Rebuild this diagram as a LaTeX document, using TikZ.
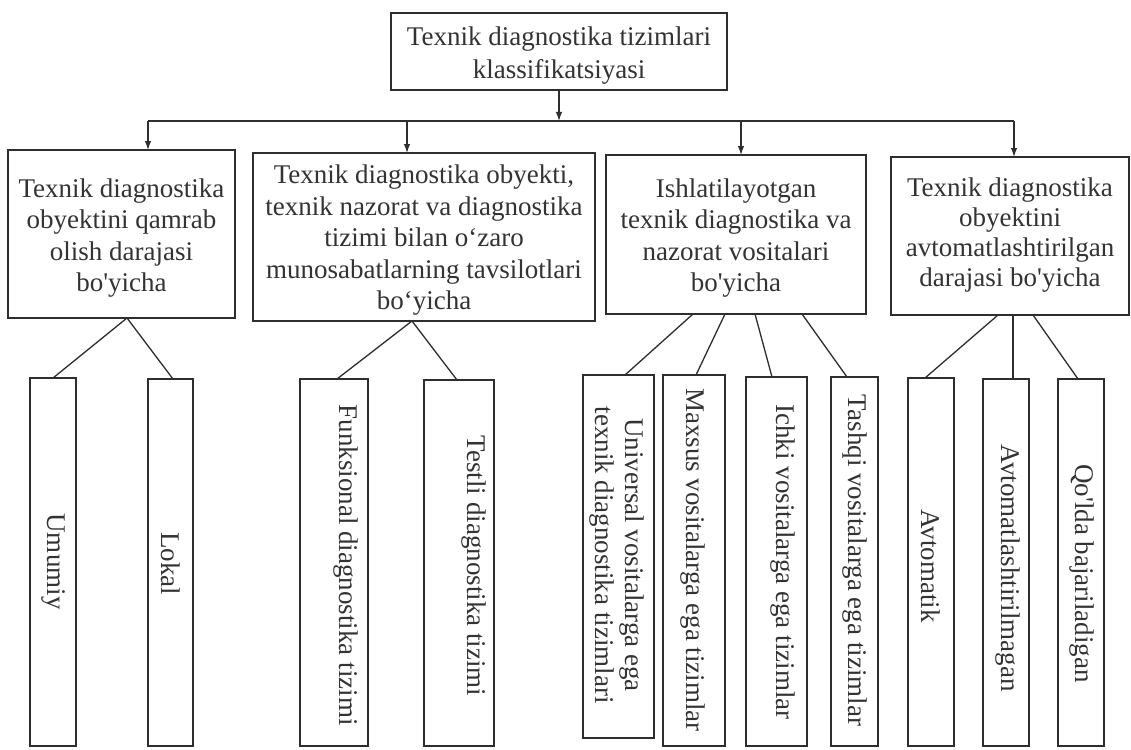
\documentclass[tikz,border=0pt]{standalone}
\usepackage{fontspec}
\setmainfont{Liberation Serif}
\usetikzlibrary{arrows.meta}
\definecolor{ink}{HTML}{2E2E2E}
\definecolor{txt}{HTML}{333333}
\begin{document}
\begin{tikzpicture}[x=1pt,y=-1pt,
  every node/.style={inner sep=0pt, outer sep=0pt},
  box/.style={draw=ink, line width=1.5pt},
  htext/.style={text=txt, align=center, font=\fontsize{27}{31.5}\selectfont},
  leaf/.style={draw=ink, line width=1.5pt},
  vtext/.style={rotate=-90, text=txt, align=center, font=\fontsize{27}{30}\selectfont},
  con/.style={draw=ink, line width=1.3pt},
  arr/.style={con, -{Latex[length=9pt,width=6.5pt]}},
]
\fill[white] (0,0) rectangle (1131,749);
\useasboundingbox (0,0) rectangle (1131,749);

% top
\node[box, minimum width=336pt, minimum height=77pt] (top) at (559,51.5) {};
\node[htext, font=\fontsize{27}{33}\selectfont] (topt) at (559,55.5)
  {Texnik diagnostika tizimlari\\klassifikatsiyasi};

% level 1
\node[box, minimum width=227pt, minimum height=168pt] (b1) at (121.5,234) {};
\node[box, minimum width=342pt, minimum height=168pt] (b2) at (424,237) {};
\node[box, minimum width=260pt, minimum height=159pt] (b3) at (736,234.5) {};
\node[box, minimum width=238pt, minimum height=158pt] (b4) at (1010,236) {};

\node[htext] (b1t) at (121.5,238)
  {Texnik diagnostika\\obyektini qamrab\\olish darajasi\\bo\textquotesingle yicha};
\node[htext] (b2t) at (424,240.5)
  {Texnik diagnostika obyekti,\\texnik nazorat va diagnostika\\tizimi bilan o‘zaro\\munosabatlarning tavsilotlari\\bo‘yicha};
\node[htext] (b3t) at (736,238)
  {Ishlatilayotgan\\texnik diagnostika va\\nazorat vositalari\\bo\textquotesingle yicha};
\node[htext, font=\fontsize{27}{30}\selectfont] (b4t) at (1010,235.5)
  {Texnik diagnostika\\obyektini\\avtomatlashtirilgan\\darajasi bo\textquotesingle yicha};

% bus
\coordinate (bus) at (559,121);
\coordinate (j1) at (148,121);
\coordinate (j2) at (407,121);
\coordinate (j3) at (741,121);
\coordinate (j4) at (1014,121);
\draw[arr] (top.south) -- (bus);
\draw[con] (j1) -- (j4);
\draw[arr] (j1) -- (j1 |- b1.north);
\draw[arr] (j2) -- (j2 |- b2.north);
\draw[arr] (j3) -- (j3 |- b3.north);
\draw[arr] (j4) -- (j4 |- b4.north);

% leaves
\node[leaf, minimum width=46pt, minimum height=368pt] (u1) at (53,562) {};
\node[leaf, minimum width=45pt, minimum height=367pt] (u2) at (170.5,562.5) {};
\node[leaf, minimum width=68pt, minimum height=367pt] (f1) at (334,562.5) {};
\node[leaf, minimum width=70pt, minimum height=366pt] (f2) at (459,563) {};
\node[leaf, minimum width=71pt, minimum height=363pt] (v1) at (618.5,556.5) {};
\node[leaf, minimum width=62pt, minimum height=371pt] (v2) at (694,560.5) {};
\node[leaf, minimum width=61pt, minimum height=369pt] (v3) at (776.5,561.5) {};
\node[leaf, minimum width=47pt, minimum height=369pt] (v4) at (854.5,561.5) {};
\node[leaf, minimum width=46pt, minimum height=368pt] (a1) at (931,562) {};
\node[leaf, minimum width=46pt, minimum height=367pt] (a2) at (1006,562.5) {};
\node[leaf, minimum width=46pt, minimum height=367pt] (a3) at (1081,562.5) {};

\node[vtext] (u1t) at (53.5,561.5) {Umumiy};
\node[vtext] (u2t) at (171,563.5) {Lokal};
\node[vtext] (f1t) at (345.5,565) {Funksional diagnostika tizimi};
\node[vtext] (f2t) at (473.5,566) {Testli diagnostika tizimi};
\node[vtext] (v1t) at (617,555) {Universal vositalarga ega\\texnik diagnostika tizimlari};
\node[vtext] (v2t) at (693,560) {Maxsus vositalarga ega tizimlar};
\node[vtext] (v3t) at (783,562) {Ichki vositalarga ega tizimlar};
\node[vtext] (v4t) at (855,560.5) {Tashqi vositalarga ega tizimlar};
\node[vtext] (a1t) at (930.5,566) {Avtomatik};
\node[vtext] (a2t) at (1008,568) {Avtomatlashtirilmagan};
\node[vtext] (a3t) at (1081.5,573.5) {Qo\textquotesingle lda bajariladigan};

% connectors
\draw[con] ([xshift=5.5pt]b1.south) -- (u1.north);
\draw[con] ([xshift=5.5pt]b1.south) -- ([xshift=2.5pt]u2.north);
\draw[con] ([xshift=-12pt]b2.south) -- ([xshift=3pt]f1.north);
\draw[con] ([xshift=-12pt]b2.south) -- ([xshift=-2pt]f2.north);
\draw[con] ([xshift=-43pt]b3.south) -- ([xshift=6.5pt]v1.north);
\draw[con] ([xshift=-11pt]b3.south) -- ([xshift=2pt]v2.north);
\draw[con] ([xshift=19pt]b3.south) -- ([xshift=-4.5pt]v3.north);
\draw[con] ([xshift=66pt]b3.south) -- ([xshift=-7.5pt]v4.north);
\draw[con] ([xshift=-12pt]b4.south) -- ([xshift=-6pt]a1.north);
\draw[con] ([xshift=3pt]b4.south) -- ([xshift=7pt]a2.north);
\draw[con] ([xshift=23pt]b4.south) -- ([xshift=-3pt]a3.north);
\end{tikzpicture}
\end{document}
